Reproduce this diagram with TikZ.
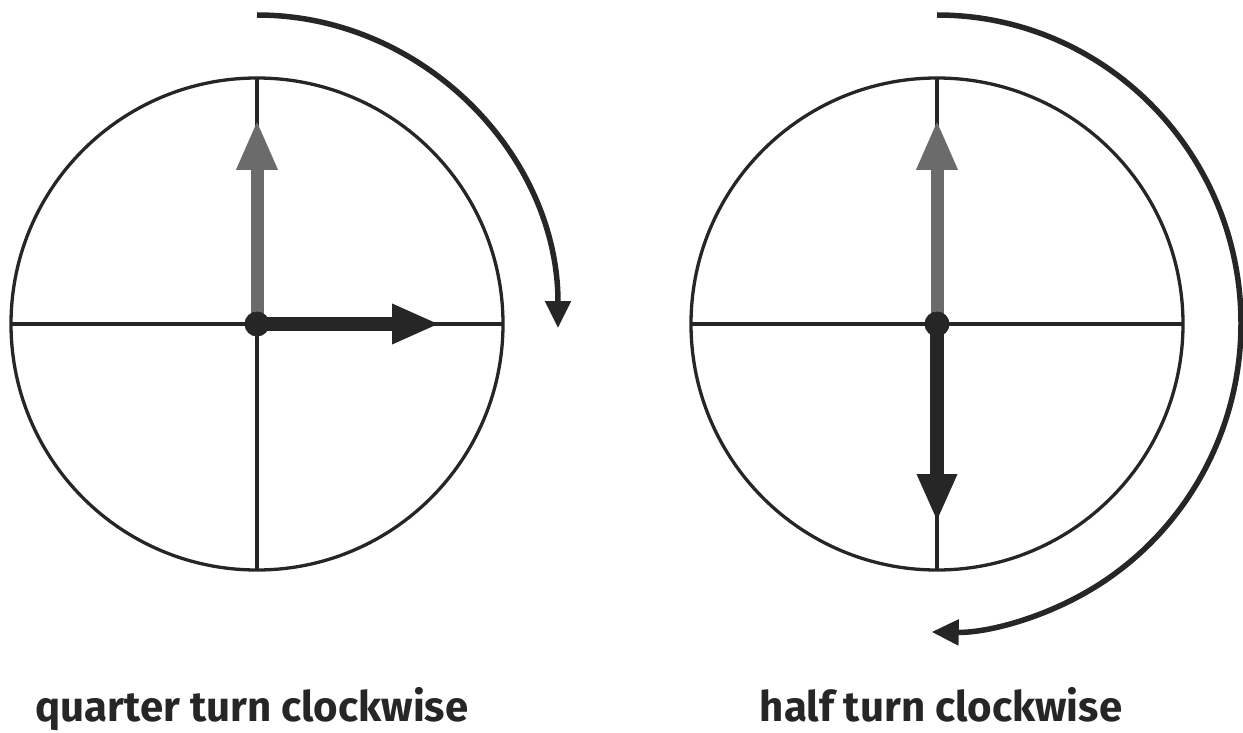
\documentclass[tikz,border=0pt]{standalone}
\usepackage{fontspec}
\setsansfont{Fira Sans}
\usetikzlibrary{positioning,arrows.meta}
\definecolor{turnBlack}{HTML}{262626}
\definecolor{turnGrey}{HTML}{6B6B6B}

\begin{document}
\begin{tikzpicture}[
                x=1pt, y=-1pt,
                dial/.style={circle, draw=turnBlack, line width=3.3pt, minimum size=492pt,
                             inner sep=0pt, outer sep=0pt},
                axisline/.style={draw=turnBlack, line width=3.3pt},
                pivot/.style={circle, fill=turnBlack, minimum size=25pt, inner sep=0pt},
                startHand/.style={draw=turnGrey, line width=13pt, -{Triangle[length=50pt, width=38pt]}},
                endHand/.style={draw=turnBlack, line width=14pt, -{Triangle[length=48pt, width=37pt]}},
                turnArc/.style={draw=turnBlack, line width=5.5pt, -{Triangle[length=27pt, width=25pt]}},
                caption/.style={font=\sffamily\bfseries\fontsize{42}{46}\selectfont, text=turnBlack,
                                anchor=base}
            ]
                \useasboundingbox (0,0) rectangle (1243,733);

                % quarter turn
                \node[dial] (dialA) at (257,324) {};
                \draw[axisline] (dialA.north) -- (dialA.south);
                \draw[axisline] (dialA.west) -- (dialA.east);
                \coordinate (upA) at (257,120);
                \coordinate (rightA) at (440,324);
                \draw[startHand] (dialA.center) -- (upA);
                \draw[endHand] (dialA.center) -- (rightA);
                \node[pivot] (pivotA) at (dialA.center) {};
                \coordinate (arcA) at (257,15);
                \draw[turnArc] (arcA) arc[start angle=-90, end angle=0, x radius=301, y radius=313];
                \node[caption] (labelA) at (252,721) {quarter turn clockwise};

                % half turn
                \node[dial] (dialB) at (937,324) {};
                \draw[axisline] (dialB.north) -- (dialB.south);
                \draw[axisline] (dialB.west) -- (dialB.east);
                \coordinate (upB) at (937,120);
                \coordinate (downB) at (937,522);
                \draw[startHand] (dialB.center) -- (upB);
                \draw[endHand] (dialB.center) -- (downB);
                \node[pivot] (pivotB) at (dialB.center) {};
                \coordinate (arcB) at (937,15);
                \draw[turnArc] (arcB) arc[start angle=-90, end angle=91, x radius=304, y radius=308.5];
                \node[caption] (labelB) at (941,721) {half turn clockwise};
            \end{tikzpicture}
\end{document}
